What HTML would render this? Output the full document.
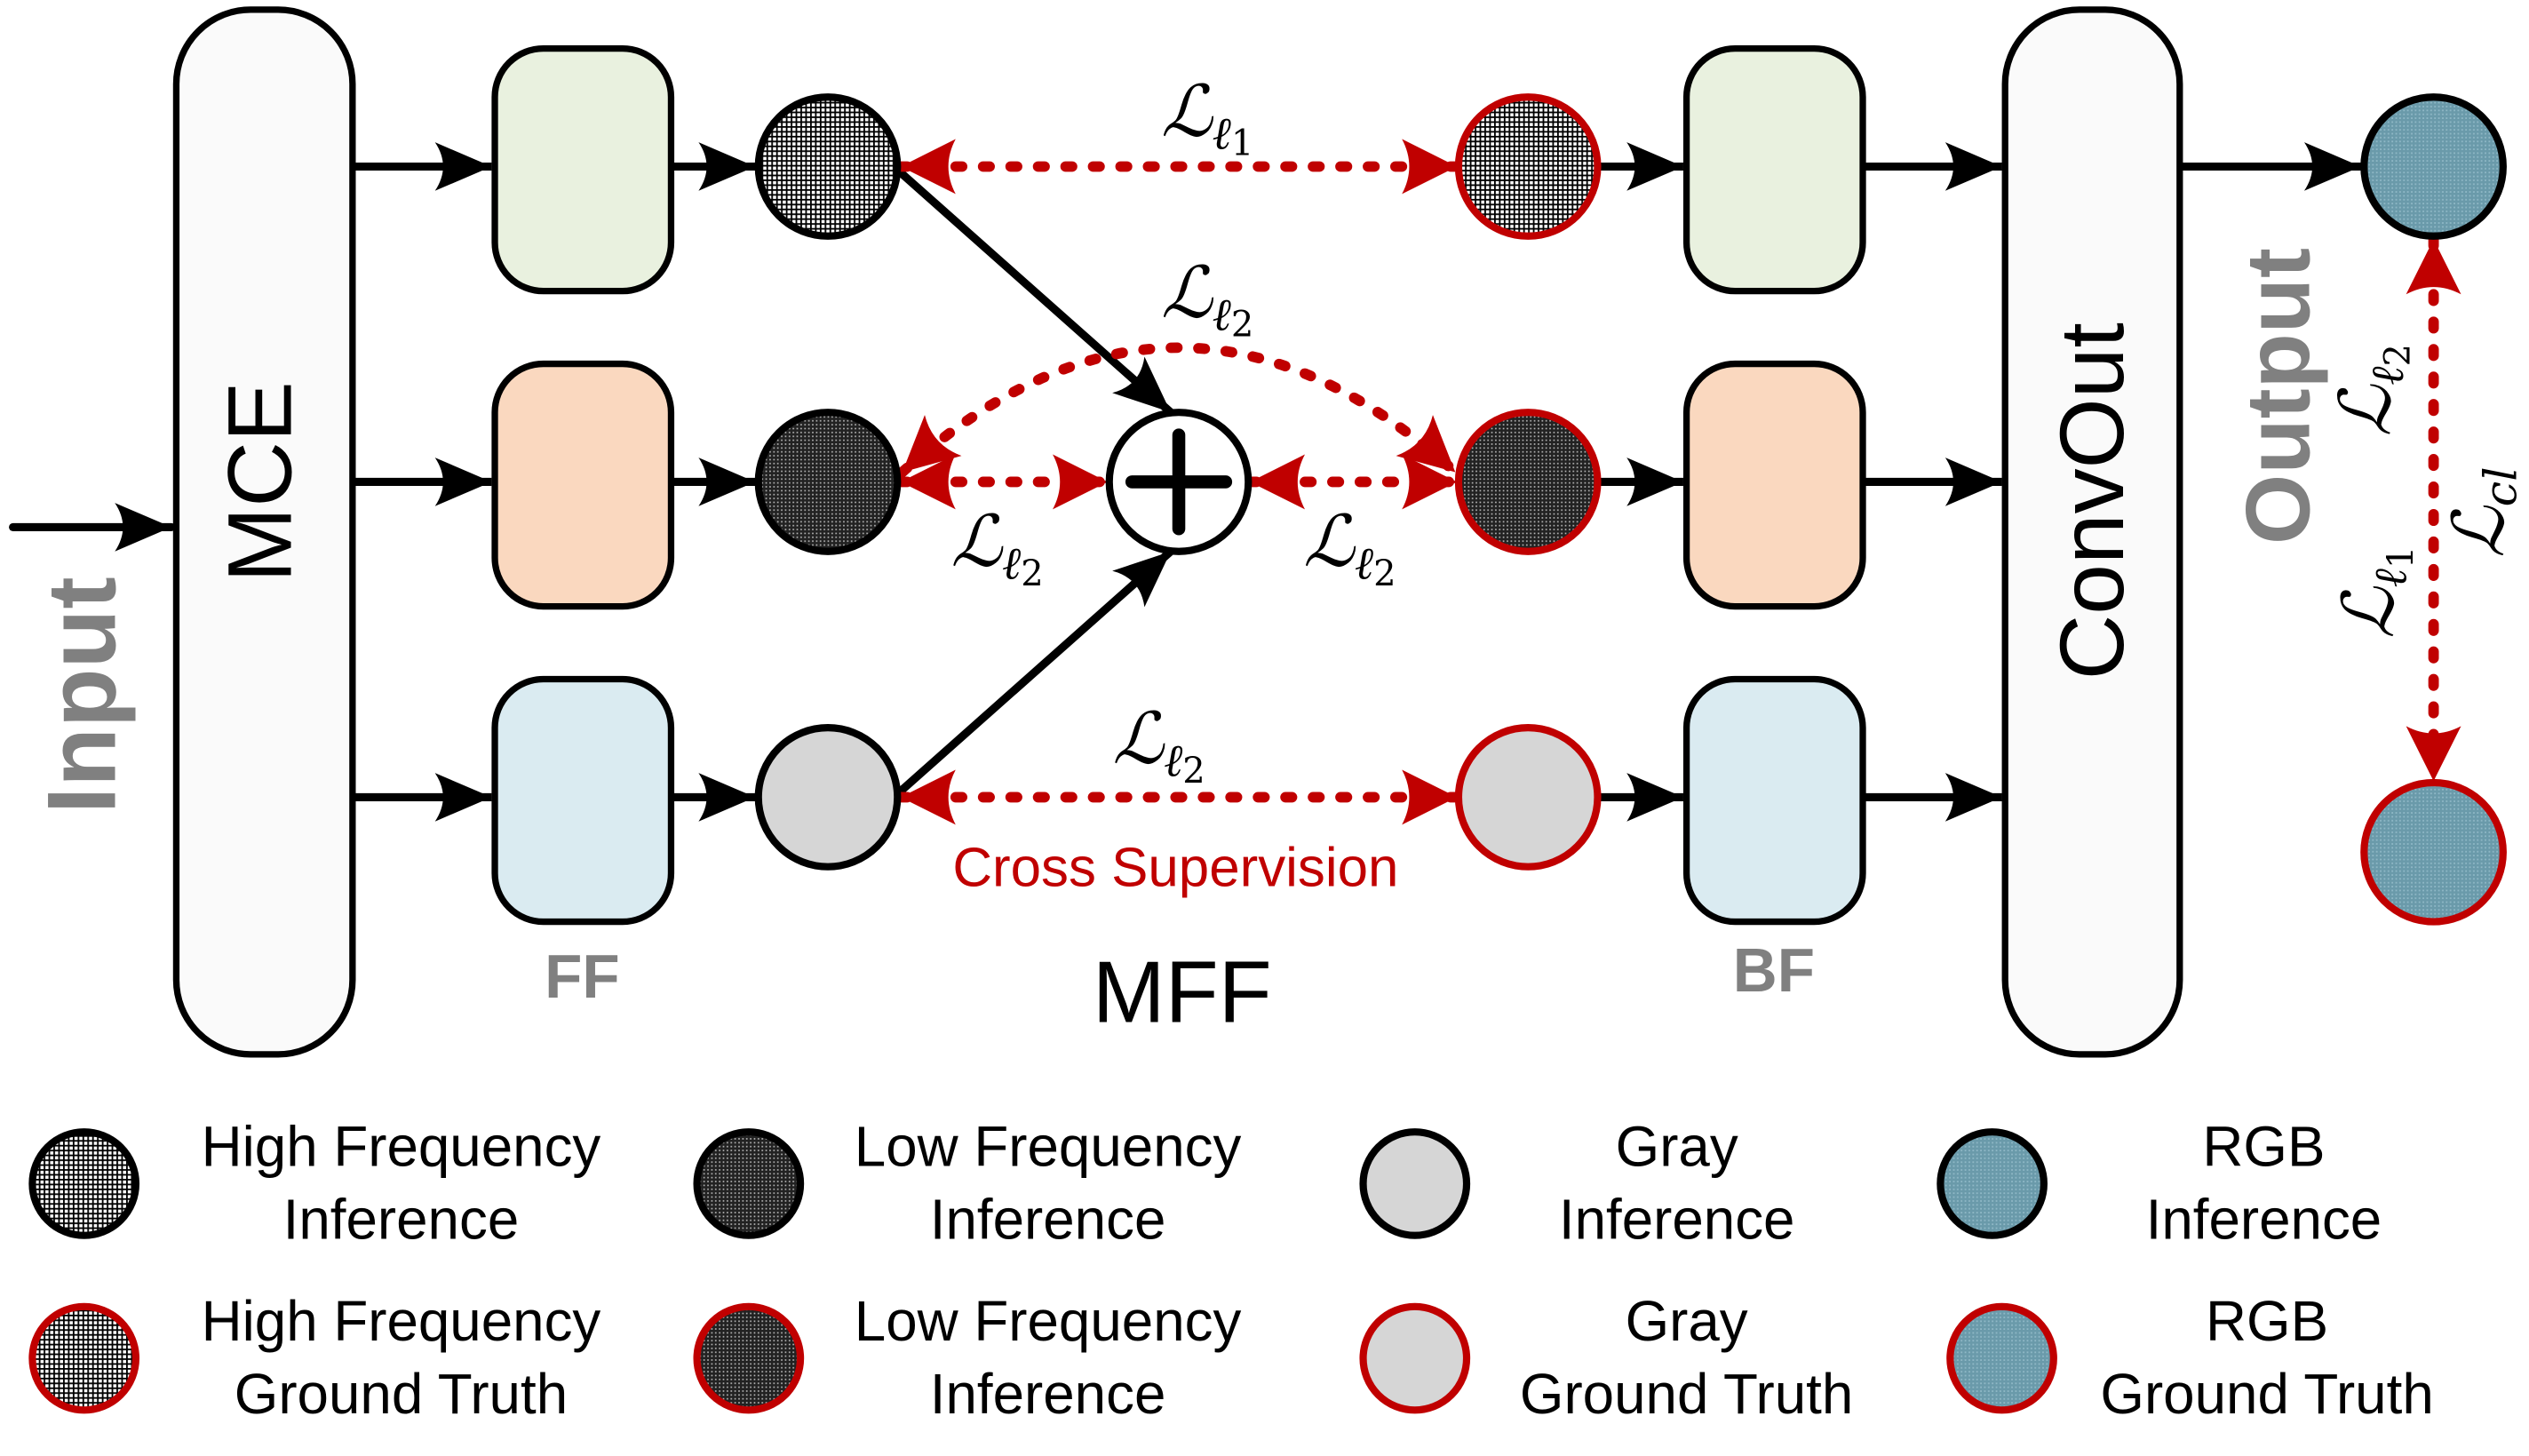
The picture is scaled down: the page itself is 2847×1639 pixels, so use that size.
<!DOCTYPE html>
<html><head><meta charset="utf-8"><style>html,body{margin:0;padding:0;background:#fff}svg{display:block}
.s{font-family:"Liberation Sans",Arial,sans-serif}
.m{font-family:"DejaVu Serif","Liberation Serif",serif;font-style:italic}
</style></head><body>
<svg width="2847" height="1639" viewBox="0 0 1564 900.4" xmlns="http://www.w3.org/2000/svg">
<defs>
<pattern id="hf" width="3" height="3" patternUnits="userSpaceOnUse"><rect width="3" height="3" fill="#fff"/><rect width="3" height="1" fill="#000"/><rect width="1" height="3" fill="#000"/></pattern>
<pattern id="lf" width="2.4" height="2.4" patternUnits="userSpaceOnUse"><rect width="2.4" height="2.4" fill="#222"/><rect x="0.6" y="0.6" width="0.9" height="0.9" fill="#bbb"/></pattern>
<pattern id="rgb" width="2.4" height="2.4" patternUnits="userSpaceOnUse"><rect width="2.4" height="2.4" fill="#6a9aaa"/><rect x="0.6" y="0.6" width="1" height="1" fill="#8fb8c6"/></pattern>
<marker id="ab" markerUnits="userSpaceOnUse" markerWidth="40" markerHeight="40" viewBox="-30 -15 32 30" refX="0" refY="0" orient="auto-start-reverse"><path d="M0,0 L-28,-12 Q-20,0 -28,12 Z" fill="#000"/></marker>
<marker id="ar" markerUnits="userSpaceOnUse" markerWidth="40" markerHeight="40" viewBox="-36 -20 38 40" refX="0" refY="0" orient="auto-start-reverse"><path d="M0,0 L-34,-17 Q-25,0 -34,17 Z" fill="#c00000"/></marker>
</defs>
<g class="s">
<line x1="8" y1="326" x2="106" y2="326" stroke="#000" stroke-width="5" stroke-linecap="round" marker-end="url(#ab)"/>
<text class="s" transform="translate(71,430) rotate(-90)" text-anchor="middle" font-size="60" font-weight="bold" fill="#808080">Input</text>
<rect x="109" y="6" width="109" height="646" rx="46" fill="#fafafa" stroke="#000" stroke-width="4"/>
<text class="s" transform="translate(180,298) rotate(-90)" text-anchor="middle" font-size="56" fill="#000">MCE</text>
<rect x="1240" y="6" width="108" height="646" rx="46" fill="#fafafa" stroke="#000" stroke-width="4"/>
<text class="s" transform="translate(1313,310) rotate(-90)" text-anchor="middle" font-size="56" fill="#000">ConvOut</text>
<text class="s" transform="translate(1428,245) rotate(-90)" text-anchor="middle" font-size="56" font-weight="bold" fill="#808080">Output</text>
<rect x="306" y="30" width="109" height="150" rx="30" fill="#e9f1df" stroke="#000" stroke-width="4"/>
<rect x="306" y="225" width="109" height="150" rx="30" fill="#fad8bf" stroke="#000" stroke-width="4"/>
<rect x="306" y="420" width="109" height="150" rx="30" fill="#daebf1" stroke="#000" stroke-width="4"/>
<rect x="1043" y="30" width="109" height="150" rx="30" fill="#e9f1df" stroke="#000" stroke-width="4"/>
<rect x="1043" y="225" width="109" height="150" rx="30" fill="#fad8bf" stroke="#000" stroke-width="4"/>
<rect x="1043" y="420" width="109" height="150" rx="30" fill="#daebf1" stroke="#000" stroke-width="4"/>
<text class="s" x="360" y="617" text-anchor="middle" font-size="38" font-weight="bold" fill="#808080">FF</text>
<text class="s" x="1097" y="613" text-anchor="middle" font-size="38" font-weight="bold" fill="#808080">BF</text>
<text class="s" x="731" y="632" text-anchor="middle" font-size="54" fill="#000">MFF</text>
<text class="s" x="727" y="548" text-anchor="middle" font-size="34" fill="#c00000">Cross Supervision</text>
<g stroke="#000" stroke-width="5" marker-end="url(#ab)">
<line x1="218" y1="103" x2="304" y2="103"/><line x1="218" y1="298" x2="304" y2="298"/><line x1="218" y1="493" x2="304" y2="493"/>
<line x1="415" y1="103" x2="467" y2="103"/><line x1="415" y1="298" x2="467" y2="298"/><line x1="415" y1="493" x2="467" y2="493"/>
<line x1="988" y1="103" x2="1041" y2="103"/><line x1="988" y1="298" x2="1041" y2="298"/><line x1="988" y1="493" x2="1041" y2="493"/>
<line x1="1152" y1="103" x2="1238" y2="103"/><line x1="1152" y1="298" x2="1238" y2="298"/><line x1="1152" y1="493" x2="1238" y2="493"/>
<line x1="1348" y1="103" x2="1460" y2="103"/>
<line x1="555" y1="105" x2="724" y2="255"/>
<line x1="555" y1="491" x2="724" y2="341"/>
</g>
<g stroke="#c00000" stroke-width="6.5" stroke-linecap="round" stroke-dasharray="4 13" fill="none" marker-start="url(#ar)" marker-end="url(#ar)">
<line x1="557" y1="103" x2="901" y2="103"/>
<line x1="557" y1="493" x2="901" y2="493"/>
<line x1="557" y1="298" x2="685" y2="298"/>
<line x1="773" y1="298" x2="901" y2="298"/>
<path d="M558,292 Q729,138 900,292"/>
<line x1="1505" y1="148" x2="1505" y2="483"/>
</g>
<g stroke-width="4.5">
<circle cx="512" cy="103" r="43" fill="url(#hf)" stroke="#000"/>
<circle cx="512" cy="298" r="43" fill="url(#lf)" stroke="#000"/>
<circle cx="512" cy="493" r="43" fill="#d6d6d6" stroke="#000"/>
<circle cx="945" cy="103" r="43" fill="url(#hf)" stroke="#c00000"/>
<circle cx="945" cy="298" r="43" fill="url(#lf)" stroke="#c00000"/>
<circle cx="945" cy="493" r="43" fill="#d6d6d6" stroke="#c00000"/>
<circle cx="1505" cy="103" r="43" fill="url(#rgb)" stroke="#000"/>
<circle cx="1505" cy="527" r="43" fill="url(#rgb)" stroke="#c00000"/>
<circle cx="729" cy="298" r="43" fill="#fff" stroke="#000"/>
</g>
<line x1="700" y1="298" x2="758" y2="298" stroke="#000" stroke-width="8" stroke-linecap="round"/>
<line x1="729" y1="269" x2="729" y2="327" stroke="#000" stroke-width="8" stroke-linecap="round"/>
<g fill="#000">
<text class="m" x="718" y="84" font-size="44">ℒ<tspan font-size="28" dy="8">ℓ</tspan><tspan font-size="22" font-style="normal" dy="4">1</tspan></text>
<text class="m" x="718" y="196" font-size="44">ℒ<tspan font-size="28" dy="8">ℓ</tspan><tspan font-size="22" font-style="normal" dy="4">2</tspan></text>
<text class="m" x="588" y="350" font-size="44">ℒ<tspan font-size="28" dy="8">ℓ</tspan><tspan font-size="22" font-style="normal" dy="4">2</tspan></text>
<text class="m" x="806" y="350" font-size="44">ℒ<tspan font-size="28" dy="8">ℓ</tspan><tspan font-size="22" font-style="normal" dy="4">2</tspan></text>
<text class="m" x="688" y="472" font-size="44">ℒ<tspan font-size="28" dy="8">ℓ</tspan><tspan font-size="22" font-style="normal" dy="4">2</tspan></text>
<text class="m" transform="translate(1478,270) rotate(-90)" font-size="44">ℒ<tspan font-size="28" dy="8">ℓ</tspan><tspan font-size="22" font-style="normal" dy="4">2</tspan></text>
<text class="m" transform="translate(1480,395) rotate(-90)" font-size="44">ℒ<tspan font-size="28" dy="8">ℓ</tspan><tspan font-size="22" font-style="normal" dy="4">1</tspan></text>
<text class="m" transform="translate(1548,345) rotate(-90)" font-size="44">ℒ<tspan font-size="28" dy="8">cl</tspan></text>
</g>
<g stroke-width="4.5">
<circle cx="52" cy="732" r="32" fill="url(#hf)" stroke="#000"/>
<circle cx="463" cy="732" r="32" fill="url(#lf)" stroke="#000"/>
<circle cx="875" cy="732" r="32" fill="#d6d6d6" stroke="#000"/>
<circle cx="1232" cy="732" r="32" fill="url(#rgb)" stroke="#000"/>
<circle cx="52" cy="840" r="32" fill="url(#hf)" stroke="#c00000"/>
<circle cx="463" cy="840" r="32" fill="url(#lf)" stroke="#c00000"/>
<circle cx="875" cy="840" r="32" fill="#d6d6d6" stroke="#c00000"/>
<circle cx="1238" cy="840" r="32" fill="url(#rgb)" stroke="#c00000"/>
</g>
<g font-size="35" fill="#000" text-anchor="middle">
<text class="s" x="248" y="721">High Frequency</text><text class="s" x="248" y="766">Inference</text>
<text class="s" x="648" y="721">Low Frequency</text><text class="s" x="648" y="766">Inference</text>
<text class="s" x="1037" y="721">Gray</text><text class="s" x="1037" y="766">Inference</text>
<text class="s" x="1400" y="721">RGB</text><text class="s" x="1400" y="766">Inference</text>
<text class="s" x="248" y="829">High Frequency</text><text class="s" x="248" y="874">Ground Truth</text>
<text class="s" x="648" y="829">Low Frequency</text><text class="s" x="648" y="874">Inference</text>
<text class="s" x="1043" y="829">Gray</text><text class="s" x="1043" y="874">Ground Truth</text>
<text class="s" x="1402" y="829">RGB</text><text class="s" x="1402" y="874">Ground Truth</text>
</g>
</g>
</svg>
</body></html>
